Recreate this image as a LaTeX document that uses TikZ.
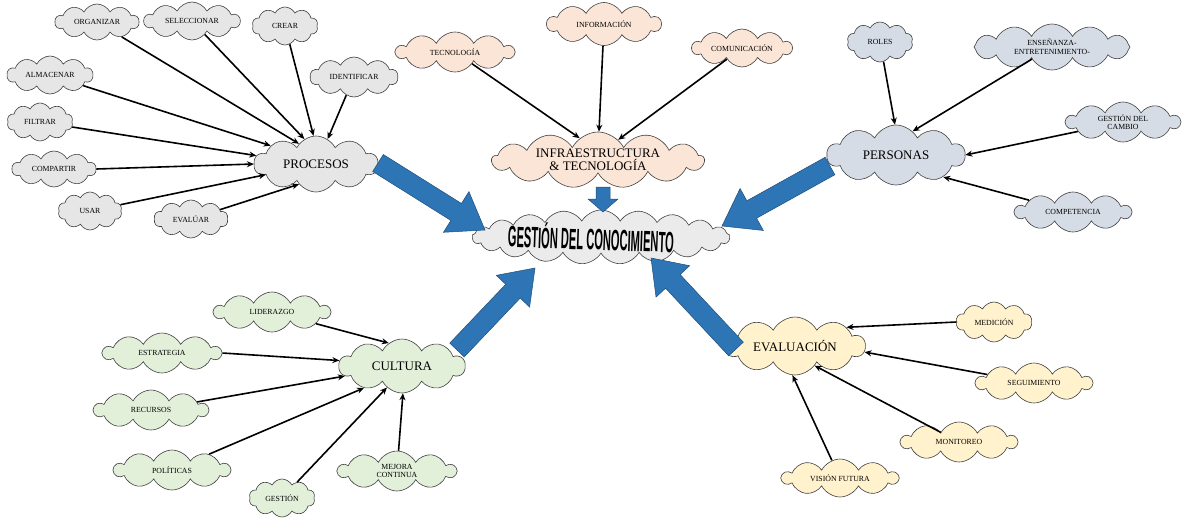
\documentclass[tikz,border=0pt]{standalone}
\usepackage{fontspec}
\setmainfont{Liberation Serif}
\setsansfont{Liberation Sans}
\usetikzlibrary{shapes.symbols,arrows.meta,calc}
\definecolor{cgray}{HTML}{E7E6E6}
\definecolor{cpeach}{HTML}{FBE5D6}
\definecolor{cblue}{HTML}{D6DCE5}
\definecolor{cgreen}{HTML}{E2F0D9}
\definecolor{cyell}{HTML}{FFF2CC}
\definecolor{bigblue}{HTML}{2E75B6}
\definecolor{bigedge}{HTML}{1F4E79}
\newcommand\mapbigarrow[5]{%
  \coordinate (#1-#2-b) at ($(#2)!#5!(#1)$);
  \fill[bigblue,draw=bigedge,line width=0.5pt,line join=miter]
    ($(#1)!#3!90:(#2)$) -- ($(#1-#2-b)!#3!90:(#2)$) -- ($(#1-#2-b)!#4!90:(#2)$)
    -- (#2) -- ($(#1-#2-b)!#4!-90:(#2)$) -- ($(#1-#2-b)!#3!-90:(#2)$)
    -- ($(#1)!#3!-90:(#2)$) -- cycle;}
\tikzset{
  cl/.style={cloud, cloud puffs=10, cloud puff arc=125, cloud ignores aspect,
    draw=black!75, line width=0.6pt, inner sep=0pt, align=center,
    font=\fontsize{7.8}{8.6}\selectfont},
  big/.style={font=\fontsize{13}{13.5}\selectfont},
  gr/.style={cl, fill=cgray},
  pe/.style={cl, fill=cpeach},
  bl/.style={cl, fill=cblue},
  gn/.style={cl, fill=cgreen},
  ye/.style={cl, fill=cyell},
  conn/.style={-{Stealth[length=7pt,width=6pt]}, line width=1.6pt, black},
}
\begin{document}
\begin{tikzpicture}[x=1pt,y=-1pt]
\useasboundingbox (0,0) rectangle (1182,520);
% ---------- PROCESOS cluster
\node[gr, minimum width=84, minimum height=36] (org) at (97,22) {ORGANIZAR};
\node[gr, minimum width=96, minimum height=38] (sel) at (192,21) {SELECCIONAR};
\node[gr, minimum width=66, minimum height=38] (cre) at (285,26) {CREAR};
\node[gr, minimum width=88, minimum height=40] (ide) at (354,77) {IDENTIFICAR};
\node[gr, minimum width=86, minimum height=38] (alm) at (50,75) {ALMACENAR};
\node[gr, minimum width=66, minimum height=38] (fil) at (40,122) {FILTRAR};
\node[gr, minimum width=84, minimum height=36] (com) at (54,169) {COMPARTIR};
\node[gr, minimum width=64, minimum height=38] (usa) at (90,211) {USAR};
\node[gr, minimum width=74, minimum height=38] (eva) at (191,219) {EVALÚAR};
\node[gr, big, minimum width=124, minimum height=56] (proc) at (316,164) {PROCESOS};
\draw[conn] (org) -- (proc.130);
\draw[conn] (sel) -- (proc.115);
\draw[conn] (cre) -- (proc.95);
\draw[conn] (ide) -- (proc.65);
\draw[conn] (alm) -- (proc.158);
\draw[conn] (fil) -- (proc.172);
\draw[conn] (com.east) -- (proc.west);
\draw[conn] (usa) -- (proc.192);
\draw[conn] (eva) -- (proc.230);
% ---------- INFRAESTRUCTURA cluster
\node[pe, minimum width=118, minimum height=40] (tec) at (455,52) {TECNOLOGÍA};
\node[pe, minimum width=114, minimum height=43] (inf) at (604,24) {INFORMACIÓN};
\node[pe, minimum width=100, minimum height=38] (cmn) at (742,48) {COMUNICACIÓN};
\node[pe, big, minimum width=212, minimum height=56, cloud puffs=13] (infra) at (598,160) {INFRAESTRUCTURA\\\& TECNOLOGÍA};
\draw[conn] (tec) -- (infra.130);
\draw[conn] (inf) -- (infra.88);
\draw[conn] (cmn) -- (infra.45);
% ---------- PERSONAS cluster
\node[bl, minimum width=66, minimum height=40] (rol) at (880,42) {ROLES};
\node[bl, minimum width=156, minimum height=46, cloud puffs=12] (ens) at (1052,47) {ENSEÑANZA-\\ENTRETENIMIENTO-};
\node[bl, minimum width=114, minimum height=40] (gca) at (1123,122) {GESTIÓN DEL\\CAMBIO};
\node[bl, minimum width=116, minimum height=40] (cmp) at (1073,212) {COMPETENCIA};
\node[bl, big, minimum width=138, minimum height=60] (pers) at (896,155) {PERSONAS};
\draw[conn] (rol) -- (pers.92);
\draw[conn] (ens) -- (pers.55);
\draw[conn] (gca) -- (pers.east);
\draw[conn] (cmp) -- (pers.-25);
% ---------- CENTER
\node[cl, fill=cgray!80!white, minimum width=258, minimum height=54, cloud puffs=21, cloud puff arc=120,
  label={[name=gctext, inner sep=0pt, xshift=-10pt]center:{\rotatebox{-2}{\resizebox{166pt}{26pt}{\sffamily\bfseries GESTIÓN DEL CONOCIMIENTO}}}}]
  (gc) at (601,237) {\vrule width 0pt height 6pt depth 6pt\hspace{150pt}};
% ---------- CULTURA cluster
\node[gn, minimum width=116, minimum height=40] (lid) at (272,312) {LIDERAZGO};
\node[gn, minimum width=118, minimum height=40] (est) at (162,353) {ESTRATEGIA};
\node[gn, minimum width=114, minimum height=40] (rec) at (151,410) {RECURSOS};
\node[gn, minimum width=116, minimum height=40] (pol) at (172,470) {POLÍTICAS};
\node[gn, minimum width=66, minimum height=38] (ges) at (282,498) {GESTIÓN};
\node[gn, minimum width=118, minimum height=40] (mej) at (397,471) {MEJORA\\CONTINUA};
\node[gn, big, minimum width=126, minimum height=54] (cul) at (402,366) {CULTURA};
\draw[conn] (lid) -- (cul.120);
\draw[conn] (est.east) -- (cul.175);
\draw[conn] (rec) -- (cul.190);
\draw[conn] (pol) -- (cul.210);
\draw[conn] (ges) -- (cul.235);
\draw[conn] (mej) -- (cul.272);
% ---------- EVALUACION cluster
\node[ye, minimum width=76, minimum height=40] (med) at (994,322) {MEDICIÓN};
\node[ye, minimum width=116, minimum height=40] (seg) at (1034,383) {SEGUIMIENTO};
\node[ye, minimum width=116, minimum height=40] (mon) at (959,442) {MONITOREO};
\node[ye, minimum width=116, minimum height=38] (vis) at (840,478) {VISIÓN FUTURA};
\node[ye, big, minimum width=140, minimum height=58] (evl) at (795,346) {EVALUACIÓN};
\draw[conn] (med.west) -- (evl.20);
\draw[conn] (seg) -- (evl.-5);
\draw[conn] (mon) -- (evl.-45);
\draw[conn] (vis) -- (evl.-95);
% ---------- big arrows
\coordinate (a1s) at (378,163); \coordinate (a1t) at (485,230);
\mapbigarrow{a1s}{a1t}{10pt}{24pt}{34pt}
\coordinate (a2s) at (603,187); \coordinate (a2t) at (603,212);
\mapbigarrow{a2s}{a2t}{7pt}{15pt}{13pt}
\coordinate (a3s) at (830,166); \coordinate (a3t) at (722,226);
\mapbigarrow{a3s}{a3t}{10pt}{24pt}{34pt}
\coordinate (a4s) at (457,350); \coordinate (a4t) at (535,268);
\mapbigarrow{a4s}{a4t}{10pt}{23pt}{32pt}
\coordinate (a5s) at (736,349); \coordinate (a5t) at (651,258);
\mapbigarrow{a5s}{a5t}{10pt}{23pt}{32pt}
\end{tikzpicture}
\end{document}
